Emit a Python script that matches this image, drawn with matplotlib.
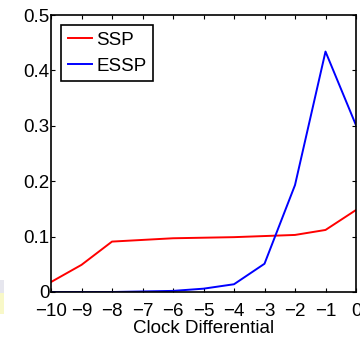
import matplotlib
matplotlib.use("Agg")
import matplotlib.pyplot as plt
from matplotlib.patches import Rectangle

plt.rcParams['font.family'] = ['Liberation Sans', 'DejaVu Sans']

clock_diff = [-10, -9, -8, -7, -6, -5, -4, -3, -2, -1, 0]
ssp = [0.018, 0.049, 0.091, 0.094, 0.097, 0.098, 0.099, 0.101, 0.103, 0.112, 0.148]
essp = [0.0, 0.0, 0.0, 0.001, 0.002, 0.006, 0.014, 0.051, 0.193, 0.434, 0.301]
x_ticks = [-10, -9, -8, -7, -6, -5, -4, -3, -2, -1, 0]
y_ticks = [0, 0.1, 0.2, 0.3, 0.4, 0.5]
y_tick_labels = ['0', '0.1', '0.2', '0.3', '0.4', '0.5']

fig = plt.figure(figsize=(3.6, 3.38), dpi=100)
ax = fig.add_axes([51/360, 1 - 292/338, 305/360, 277/338])

# faint strip at the left edge
fig.patches.append(Rectangle((0, 1 - 293/338), 4/360, 13/338,
                             transform=fig.transFigure, color='#e6e6ee', lw=0))
fig.patches.append(Rectangle((0, 1 - 314/338), 4/360, 21/338,
                             transform=fig.transFigure, color='#f8f8c8', lw=0))

ax.plot(clock_diff, ssp, color='#ff0000', lw=1.4, label='SSP')
ax.plot(clock_diff, essp, color='#0000ff', lw=1.4, label='ESSP')

ax.set_xlim(-10, 0)
ax.set_ylim(0, 0.5)
ax.set_xticks(x_ticks)
ax.set_xticklabels(['\u2212%d' % -t if t < 0 else '0' for t in x_ticks])
ax.set_yticks(y_ticks)
ax.set_yticklabels(y_tick_labels)
ax.tick_params(direction='in', length=3, width=0.8, top=True, right=True,
               labelsize=13.5)
ax.tick_params(axis='x', pad=8)
ax.tick_params(axis='y', pad=1)
for s in ax.spines.values():
    s.set_linewidth(1.2)
ax.set_xlabel('Clock Differential', fontsize=13.5, labelpad=0)

leg = ax.legend(loc='upper left', fontsize=13.5, fancybox=False, framealpha=1,
                edgecolor='black', handlelength=1.3, handletextpad=0.2,
                borderpad=0.35, labelspacing=0.45, borderaxespad=0.55)
leg.get_frame().set_linewidth(1.2)

fig.savefig('out.png', dpi=100)
